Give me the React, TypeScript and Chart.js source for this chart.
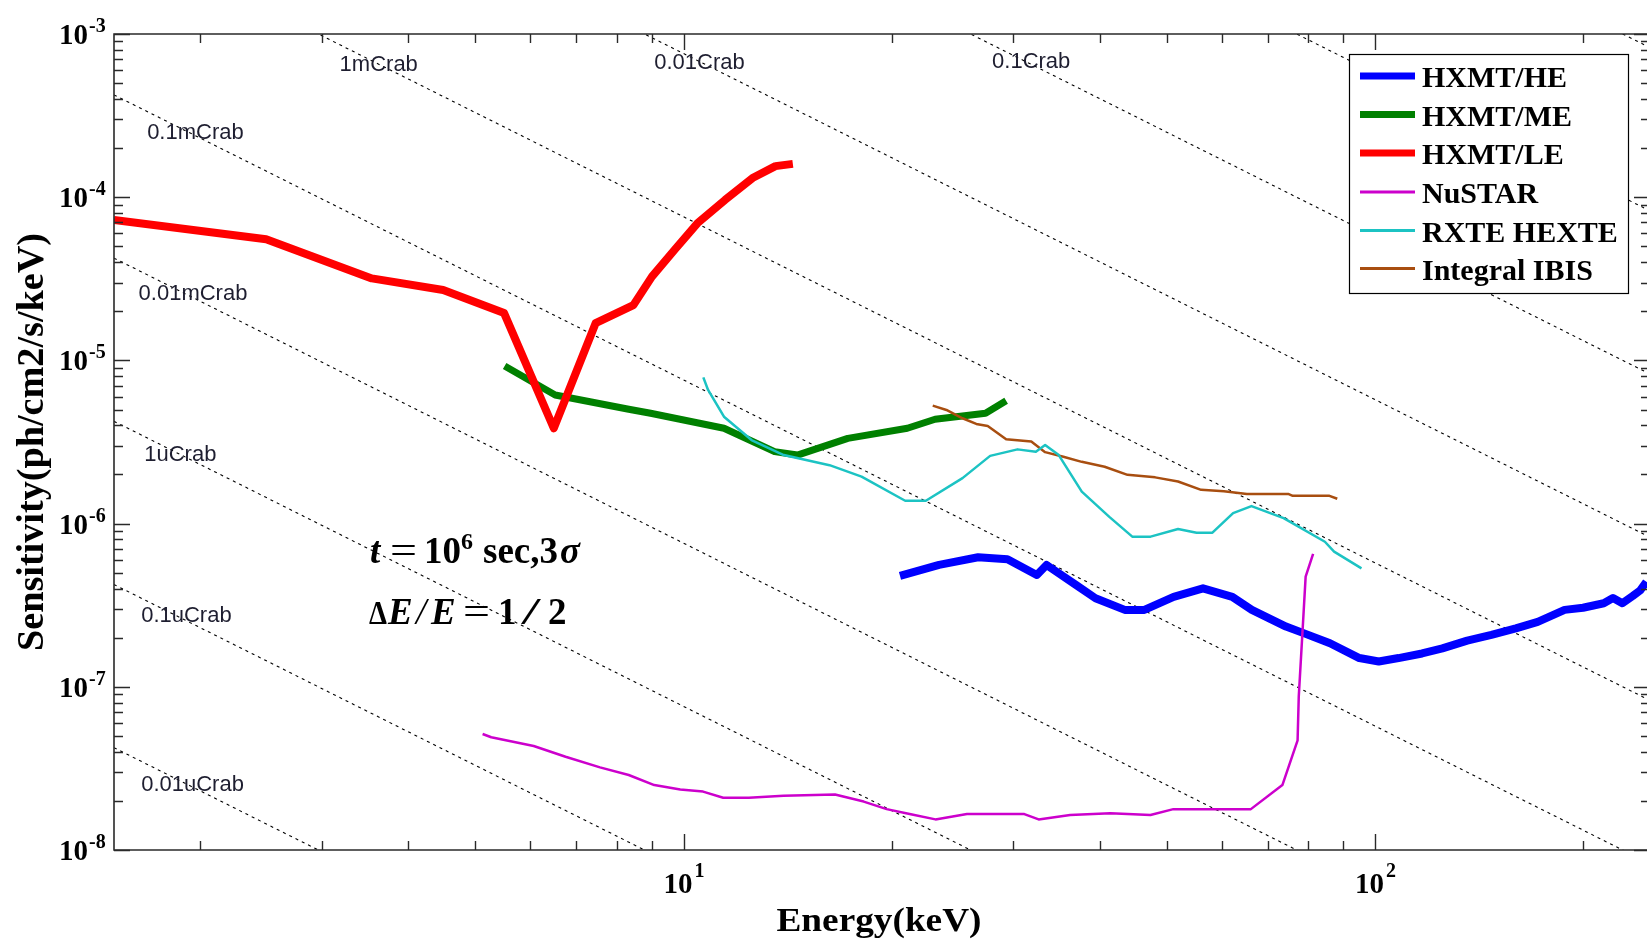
import React, { useEffect, useRef } from "react";
import { Chart, registerables } from "chart.js";
Chart.register(...registerables);

// ---------- axis ranges ----------
const X_MIN = 1.5;
const X_MAX = 250;
const Y_MIN = 1e-8;
const Y_MAX = 1e-3;
const X_MAJOR = [10, 100];
const X_MAJOR_EXP = ["1", "2"];
const X_MINOR = [2, 3, 4, 5, 6, 7, 8, 9, 20, 30, 40, 50, 60, 70, 80, 90, 200];
const Y_MAJOR = [1e-3, 1e-4, 1e-5, 1e-6, 1e-7, 1e-8];
const Y_MAJOR_EXP = ["-3", "-4", "-5", "-6", "-7", "-8"];

// ---------- series ----------
const HE_E = [20.56, 23.42, 26.67, 29.41, 32.43, 33.5, 36.94, 39.43, 43.47, 46.4, 51.15, 56.41, 62.19, 66.37, 74.37, 79.38, 86.11, 94.95, 101.3, 108.2, 117, 125.2, 136, 147.4, 159.9, 172, 188.1, 200, 214.3, 221, 228, 236, 242, 247];
const HE_F = [4.78e-7, 5.58e-7, 6.22e-7, 6.04e-7, 4.84e-7, 5.58e-7, 4.21e-7, 3.49e-7, 2.96e-7, 2.96e-7, 3.56e-7, 4.01e-7, 3.56e-7, 2.96e-7, 2.34e-7, 2.11e-7, 1.85e-7, 1.5e-7, 1.43e-7, 1.5e-7, 1.6e-7, 1.72e-7, 1.92e-7, 2.08e-7, 2.28e-7, 2.5e-7, 2.96e-7, 3.05e-7, 3.25e-7, 3.5e-7, 3.25e-7, 3.6e-7, 3.9e-7, 4.4e-7];

const ME_E = [5.51, 6.52, 8.33, 8.96, 11.44, 13.54, 14.61, 17.28, 21.07, 23.11, 27.34, 29.28];
const ME_F = [9.25e-6, 6.14e-6, 5.02e-6, 4.74e-6, 3.84e-6, 2.76e-6, 2.63e-6, 3.33e-6, 3.84e-6, 4.36e-6, 4.74e-6, 5.66e-6];

const LE_E = [1.5, 2.49, 3.54, 4.49, 5.5, 6.49, 7.46, 8.46, 9.0, 9.7, 10.47, 11.48, 12.58, 13.58, 14.39];
const LE_F = [7.25e-5, 5.52e-5, 3.18e-5, 2.7e-5, 1.95e-5, 3.84e-6, 1.69e-5, 2.18e-5, 3.26e-5, 4.75e-5, 6.92e-5, 9.62e-5, 1.31e-4, 1.55e-4, 1.6e-4];

const NUSTAR_E = [5.12, 5.27, 6.07, 6.75, 7.57, 8.33, 9.07, 9.89, 10.67, 11.41, 12.43, 13.95, 16.56, 18.22, 19.67, 21.23, 23.14, 25.7, 31.11, 32.63, 36.24, 41.43, 47.35, 51.11, 66.16, 73.48, 77.3, 77.6, 78.7, 79.4, 81.4];
const NUSTAR_F = [5.14e-8, 4.91e-8, 4.34e-8, 3.73e-8, 3.21e-8, 2.88e-8, 2.5e-8, 2.35e-8, 2.28e-8, 2.09e-8, 2.09e-8, 2.15e-8, 2.19e-8, 1.98e-8, 1.78e-8, 1.66e-8, 1.54e-8, 1.66e-8, 1.66e-8, 1.54e-8, 1.64e-8, 1.68e-8, 1.64e-8, 1.78e-8, 1.78e-8, 2.5e-8, 4.7e-8, 8.7e-8, 2.45e-7, 4.73e-7, 6.52e-7];

const HEXTE_E = [10.68, 10.85, 11.44, 12.54, 13.96, 16.26, 18.09, 20.92, 22.41, 25.32, 27.76, 30.41, 32.33, 33.34, 34.89, 37.67, 41.29, 44.57, 47.38, 51.91, 55.21, 58.21, 62.36, 66.29, 73.78, 84.66, 87.29, 95.63];
const HEXTE_F = [7.87e-6, 6.59e-6, 4.52e-6, 3.25e-6, 2.63e-6, 2.28e-6, 1.94e-6, 1.38e-6, 1.38e-6, 1.9e-6, 2.6e-6, 2.85e-6, 2.76e-6, 3.03e-6, 2.63e-6, 1.57e-6, 1.1e-6, 8.32e-7, 8.32e-7, 9.27e-7, 8.8e-7, 8.8e-7, 1.16e-6, 1.28e-6, 1.08e-6, 7.74e-7, 6.73e-7, 5.32e-7];

const IBIS_E = [22.93, 24.0, 25.32, 26.51, 27.54, 29.28, 31.84, 33.34, 35.43, 37.67, 40.65, 43.87, 48.1, 51.91, 56.06, 60.47, 65.3, 74.91, 76.05, 85.96, 88.22];
const IBIS_F = [5.28e-6, 4.97e-6, 4.42e-6, 4.08e-6, 3.96e-6, 3.29e-6, 3.18e-6, 2.74e-6, 2.57e-6, 2.39e-6, 2.23e-6, 1.99e-6, 1.92e-6, 1.81e-6, 1.61e-6, 1.58e-6, 1.52e-6, 1.52e-6, 1.48e-6, 1.48e-6, 1.42e-6];

// ---------- Crab reference lines ----------
const CRAB_NORM = 10; // ph/cm2/s/keV at 1 keV
const CRAB_INDEX = 2.12;
const CRAB_FRACTIONS = [1e-8, 1e-7, 1e-6, 1e-5, 1e-4, 1e-3, 1e-2, 1e-1, 1, 10];
const CRAB_LABEL_TEXT = ["1mCrab", "0.01Crab", "0.1Crab", "0.1mCrab", "0.01mCrab", "1uCrab", "0.1uCrab", "0.01uCrab"];
const CRAB_LABEL_E = [3.18, 9.07, 27.94, 1.675, 1.628, 1.659, 1.642, 1.642];
const CRAB_LABEL_F = [6.5e-4, 6.62e-4, 6.73e-4, 2.49e-4, 2.57e-5, 2.63e-6, 2.7e-7, 2.5e-8];

// ---------- legend ----------
const SERIES_NAMES = ["HXMT/HE", "HXMT/ME", "HXMT/LE", "NuSTAR", "RXTE HEXTE", "Integral IBIS"];
const SERIES_COLORS = ["#0000FF", "#008000", "#FF0000", "#CC00CC", "#1CC3C3", "#A84E10"];
const SERIES_WIDTHS = [8, 7, 8, 2.5, 2.5, 2.5];

const SERIF = '"Liberation Serif", "Times New Roman", serif';
const SANS = '"Liberation Sans", Arial, sans-serif';

function pts(e: number[], f: number[]) {
  return e.map((v, i) => ({ x: v, y: f[i] }));
}

const decorPlugin = {
  id: "decor",
  afterDatasetsDraw(chart: any) {
    const ctx: CanvasRenderingContext2D = chart.ctx;
    const { left, right, top, bottom } = chart.chartArea;
    const xs = chart.scales.x;
    const ys = chart.scales.y;
    ctx.save();

    // crab labels
    ctx.fillStyle = "#1e1e30";
    ctx.font = `22px ${SANS}`;
    ctx.textAlign = "left";
    ctx.textBaseline = "middle";
    CRAB_LABEL_TEXT.forEach((t, i) => {
      ctx.fillText(t, xs.getPixelForValue(CRAB_LABEL_E[i]), ys.getPixelForValue(CRAB_LABEL_F[i]));
    });

    // frame
    ctx.strokeStyle = "#2a2a2a";
    ctx.lineWidth = 1.6;
    ctx.beginPath();
    ctx.moveTo(right, top);
    ctx.lineTo(left, top);
    ctx.lineTo(left, bottom);
    ctx.lineTo(right, bottom);
    ctx.lineTo(right, top);
    ctx.stroke();

    // ticks
    ctx.lineWidth = 1.4;
    ctx.beginPath();
    const xt = (v: number, len: number) => {
      const p = Math.round(xs.getPixelForValue(v)) + 0.5;
      ctx.moveTo(p, bottom);
      ctx.lineTo(p, bottom - len);
      ctx.moveTo(p, top);
      ctx.lineTo(p, top + len);
    };
    X_MAJOR.forEach((v) => xt(v, 16));
    X_MINOR.forEach((v) => xt(v, 9));
    const yt = (v: number, len: number) => {
      const p = Math.round(ys.getPixelForValue(v)) + 0.5;
      ctx.moveTo(left, p);
      ctx.lineTo(left + len, p);
      ctx.moveTo(right, p);
      ctx.lineTo(right - len, p);
    };
    Y_MAJOR.forEach((v, i) => {
      yt(v, 16);
      if (i < Y_MAJOR.length - 1) {
        for (let k = 2; k <= 9; k++) yt(v * k / 10, 9);
      }
    });
    ctx.stroke();

    // tick labels
    ctx.fillStyle = "#000";
    ctx.textBaseline = "alphabetic";
    Y_MAJOR.forEach((v, i) => {
      const p = ys.getPixelForValue(v);
      ctx.font = `bold 29px ${SERIF}`;
      ctx.textAlign = "right";
      ctx.fillText("10", 88, p + 10);
      ctx.font = `bold 20px ${SERIF}`;
      ctx.textAlign = "left";
      ctx.fillText(Y_MAJOR_EXP[i], 89, p - 2);
    });
    X_MAJOR.forEach((v, i) => {
      const p = xs.getPixelForValue(v);
      ctx.font = `bold 29px ${SERIF}`;
      ctx.textAlign = "right";
      ctx.fillText("10", p + 9, 893);
      ctx.font = `bold 20px ${SERIF}`;
      ctx.textAlign = "left";
      ctx.fillText(X_MAJOR_EXP[i], p + 11, 877);
    });

    // axis titles
    const fitText = (t: string, cx: number, by: number, width: number, font: string, rot: boolean) => {
      ctx.save();
      ctx.font = font;
      ctx.textAlign = "center";
      ctx.textBaseline = "alphabetic";
      const w = ctx.measureText(t).width;
      ctx.translate(cx, by);
      if (rot) ctx.rotate(-Math.PI / 2);
      ctx.scale(width / w, 1);
      ctx.fillText(t, 0, 0);
      ctx.restore();
    };
    fitText("Energy(keV)", 879, 931, 205, `bold 34px ${SERIF}`, false);
    fitText("Sensitivity(ph/cm2/s/keV)", 43, 442, 418, `bold 37px ${SERIF}`, true);

    // annotation
    ctx.textAlign = "left";
    ctx.textBaseline = "alphabetic";
    const piece = (t: string, x: number, y: number, font: string, w?: number) => {
      ctx.save();
      ctx.font = font;
      if (w) {
        const m = ctx.measureText(t).width;
        ctx.translate(x, y);
        ctx.scale(w / m, 1);
        ctx.fillText(t, 0, 0);
      } else {
        ctx.fillText(t, x, y);
      }
      ctx.restore();
    };
    piece("t", 370, 563, `italic bold 37px ${SERIF}`);
    piece("=", 390, 563, `37px ${SERIF}`, 27);
    piece("10", 424, 563, `bold 37px ${SERIF}`);
    piece("6", 461, 549, `bold 24px ${SERIF}`);
    piece("sec,3", 483, 563, `bold 37px ${SERIF}`);
    piece("σ", 560, 563, `italic bold 37px ${SERIF}`);
    piece("Δ", 369, 624, `bold 34px ${SERIF}`, 18);
    piece("E", 388, 624, `italic bold 37px ${SERIF}`);
    piece("/", 416, 624, `italic 37px ${SERIF}`);
    piece("E", 431, 624, `italic bold 37px ${SERIF}`);
    piece("=", 463, 624, `37px ${SERIF}`, 27);
    piece("1", 498, 624, `bold 37px ${SERIF}`);
    piece("/", 521, 624, `37px ${SERIF}`, 20);
    piece("2", 548, 624, `bold 37px ${SERIF}`);

    // legend
    const bx = 1349, by = 54, bw = 279, bh = 239;
    ctx.fillStyle = "#fff";
    ctx.fillRect(bx, by, bw, bh);
    ctx.strokeStyle = "#000";
    ctx.lineWidth = 1.2;
    ctx.strokeRect(bx + 0.5, by + 0.5, bw, bh);
    const rows = [76, 114.5, 153, 192, 230.5, 268.5];
    SERIES_NAMES.forEach((n, i) => {
      ctx.strokeStyle = SERIES_COLORS[i];
      ctx.lineWidth = i < 3 ? 7 : 3;
      ctx.beginPath();
      ctx.moveTo(1360, rows[i]);
      ctx.lineTo(1415, rows[i]);
      ctx.stroke();
      ctx.fillStyle = "#000";
      ctx.font = `bold 30px ${SERIF}`;
      ctx.fillText(n, 1422, rows[i] + 11);
    });

    ctx.restore();
  },
};

export default function App() {
  const ref = useRef<HTMLCanvasElement | null>(null);
  useEffect(() => {
    if (!ref.current) return;
    const crabDatasets = CRAB_FRACTIONS.map((k) => ({
      label: "crab",
      data: [X_MIN, X_MAX].map((e) => ({ x: e, y: CRAB_NORM * k * Math.pow(e, -CRAB_INDEX) })),
      borderColor: "#000",
      borderWidth: 1.1,
      borderDash: [3, 4],
      pointRadius: 0,
      order: 10,
    }));
    const seriesE = [HE_E, ME_E, LE_E, NUSTAR_E, HEXTE_E, IBIS_E];
    const seriesF = [HE_F, ME_F, LE_F, NUSTAR_F, HEXTE_F, IBIS_F];
    const seriesOrder = [4, 5, 3, 1, 2, 2];
    const datasets = SERIES_NAMES.map((n, i) => ({
      label: n,
      data: pts(seriesE[i], seriesF[i]),
      borderColor: SERIES_COLORS[i],
      backgroundColor: SERIES_COLORS[i],
      borderWidth: SERIES_WIDTHS[i],
      pointRadius: 0,
      tension: 0,
      borderJoinStyle: "round" as const,
      borderCapStyle: "butt" as const,
      order: seriesOrder[i],
    }));
    const chart = new Chart(ref.current, {
      type: "line",
      data: { datasets: [...crabDatasets, ...datasets] as any },
      options: {
        responsive: false,
        maintainAspectRatio: false,
        devicePixelRatio: 1,
        animation: false,
        events: [],
        layout: { padding: { left: 114, right: 1, top: 34, bottom: 91 } },
        plugins: { legend: { display: false }, tooltip: { enabled: false } },
        scales: {
          x: { type: "logarithmic", min: X_MIN, max: X_MAX, display: false },
          y: { type: "logarithmic", min: Y_MIN, max: Y_MAX, display: false },
        },
      },
      plugins: [decorPlugin],
    });
    return () => chart.destroy();
  }, []);
  return (
    <div style={{ position: "fixed", left: 0, top: 0, width: 1647, height: 941, overflow: "hidden", background: "#fff" }}>
      <canvas ref={ref} width={1651} height={941} style={{ display: "block", width: 1651, height: 941 }} />
    </div>
  );
}
